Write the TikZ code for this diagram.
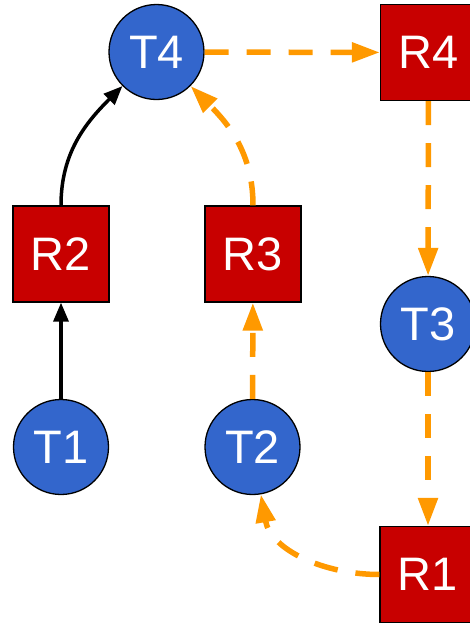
\documentclass[tikz,border=0pt]{standalone}
\usepackage{fontspec}
\setmainfont{Liberation Sans}
\usetikzlibrary{arrows.meta}
\definecolor{taskblue}{HTML}{3366CC}
\definecolor{resred}{HTML}{C80000}
\definecolor{waitorange}{HTML}{FF9900}
\begin{document}
\begin{tikzpicture}[x=1pt,y=-1pt,
  base/.style={draw=black,line width=1.3pt,text=white,inner sep=0pt,
    font=\fontsize{47}{47}\selectfont},
  task/.style={base,circle,fill=taskblue,minimum size=95pt},
  res/.style={base,rectangle,fill=resred,minimum size=96pt},
  held/.style={draw=black,line width=3.5pt,
    -{Triangle[length=19pt,width=15pt]}},
  wait/.style={draw=waitorange,line width=5.5pt,dash pattern=on 24pt off 18pt,
    -{Triangle[length=28pt,width=19pt]}}]
\useasboundingbox (0,0) rectangle (470,625);
\clip (0,0) rectangle (470,625);

% tasks
\node[task] (T4) at (156.5,52) {T4};
\node[task] (T1) at (61,447) {T1};
\node[task] (T2) at (252.5,447) {T2};
\node[task] (T3) at (428,324) {T3};

% resources
\node[res] (R4) at (428.5,52.5) {R4};
\node[res] (R2) at (61,254) {R2};
\node[res] (R3) at (253,254) {R3};
\node[res] (R1) at (428,574.5) {R1};

% held edges
\draw[held] (T1) -- (R2);
\draw[held] (R2) to[out=90,in=225] (T4);

% waiting edges
\draw[wait] (T4) -- (R4);
\draw[wait] (R4) -- (T3);
\draw[wait] (T3) -- (R1);
\draw[wait] (R1) to[out=180,in=-80] (T2);
\draw[wait] (T2) -- (R3);
\draw[wait] (R3) to[out=90,in=-45] (T4);
\end{tikzpicture}
\end{document}
